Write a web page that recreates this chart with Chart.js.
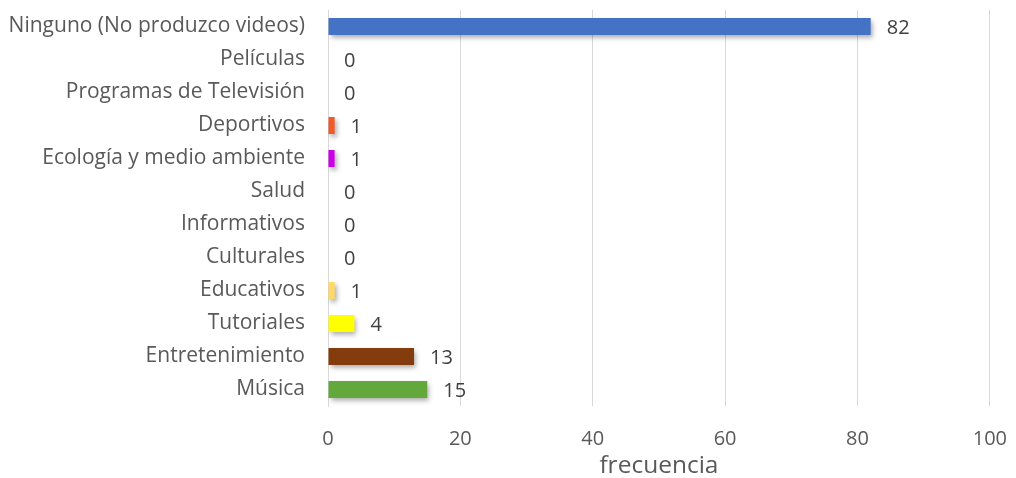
<!DOCTYPE html>
<html>
<head>
<meta charset="utf-8">
<script src="https://cdn.jsdelivr.net/npm/chart.js@4"></script>
<style>
  html, body { margin: 0; padding: 0; background: #fff; }
  #wrap { width: 1016px; height: 478px; }
</style>
</head>
<body>
<div id="wrap"><canvas id="chart"></canvas></div>
<script>
const categories = [
  "Ninguno (No produzco videos)", "Películas", "Programas de Televisión",
  "Deportivos", "Ecología y medio ambiente", "Salud", "Informativos",
  "Culturales", "Educativos", "Tutoriales", "Entretenimiento", "Música"
];
const frecuencia = [82, 0, 0, 1, 1, 0, 0, 0, 1, 4, 13, 15];
const barColors = [
  "#4472C4", "#A5A5A5", "#A5A5A5", "#F0592A", "#CC00E8", "#A5A5A5",
  "#A5A5A5", "#A5A5A5", "#FFD966", "#FFFF00", "#843C0C", "#62A83A"
];
const xTicks = [0, 20, 40, 60, 80, 100];

const FONT = "'Open Sans', 'Noto Sans', sans-serif";

// excel-like soft shadow under bars
const barShadow = {
  id: "barShadow",
  beforeDatasetsDraw(chart) {
    const ctx = chart.ctx;
    ctx.save();
    ctx.shadowColor = "rgba(0,0,0,0.35)";
    ctx.shadowBlur = 5;
    ctx.shadowOffsetX = 2;
    ctx.shadowOffsetY = 3;
  },
  afterDatasetsDraw(chart) {
    chart.ctx.restore();
  }
};

// value labels to the right of each bar
const valueLabels = {
  id: "valueLabels",
  afterDatasetsDraw(chart) {
    const ctx = chart.ctx;
    const meta = chart.getDatasetMeta(0);
    ctx.save();
    ctx.font = "20px " + FONT;
    ctx.fillStyle = "#404040";
    ctx.textAlign = "left";
    ctx.textBaseline = "middle";
    meta.data.forEach((bar, i) => {
      ctx.fillText(String(frecuencia[i]), bar.x + 16, bar.y + 2);
    });
    ctx.restore();
  }
};

new Chart(document.getElementById("chart"), {
  type: "bar",
  data: {
    labels: categories,
    datasets: [{
      data: frecuencia,
      backgroundColor: barColors,
      borderWidth: 0,
      categoryPercentage: 1,
      barPercentage: 0.52
    }]
  },
  options: {
    indexAxis: "y",
    responsive: true,
    maintainAspectRatio: false,
    animation: false,
    layout: { padding: { top: 10, right: 0, left: 0, bottom: 0 } },
    plugins: {
      legend: { display: false },
      tooltip: { enabled: false }
    },
    scales: {
      x: {
        min: 0,
        max: 100,
        afterBuildTicks(scale) {
          scale.ticks = xTicks.map(v => ({ value: v }));
        },
        afterFit(scale) { scale.height = 72; },
        grid: { color: "#D9D9D9", lineWidth: 1, drawTicks: true, tickLength: 12, tickColor: "rgba(0,0,0,0)" },
        border: { display: false },
        ticks: {
          color: "#595959",
          font: { family: FONT, size: 20 },
          padding: 9
        },
        title: {
          display: true,
          text: "frecuencia",
          color: "#595959",
          font: { family: FONT, size: 24.5, lineHeight: 1 },
          padding: { top: 0, bottom: 0 }
        }
      },
      y: {
        afterFit(scale) {
          scale.width = 328;
          scale.paddingTop = 0;
          scale.paddingBottom = 0;
        },
        grid: { color: "rgba(0,0,0,0)", drawTicks: true, tickLength: 18, tickColor: "rgba(0,0,0,0)" },
        border: { display: true, color: "#D9D9D9", width: 1 },
        ticks: {
          color: "#595959",
          font: { family: FONT, size: 21 },
          padding: 5,
          autoSkip: false
        }
      }
    }
  },
  plugins: [barShadow, valueLabels]
});
</script>
</body>
</html>
